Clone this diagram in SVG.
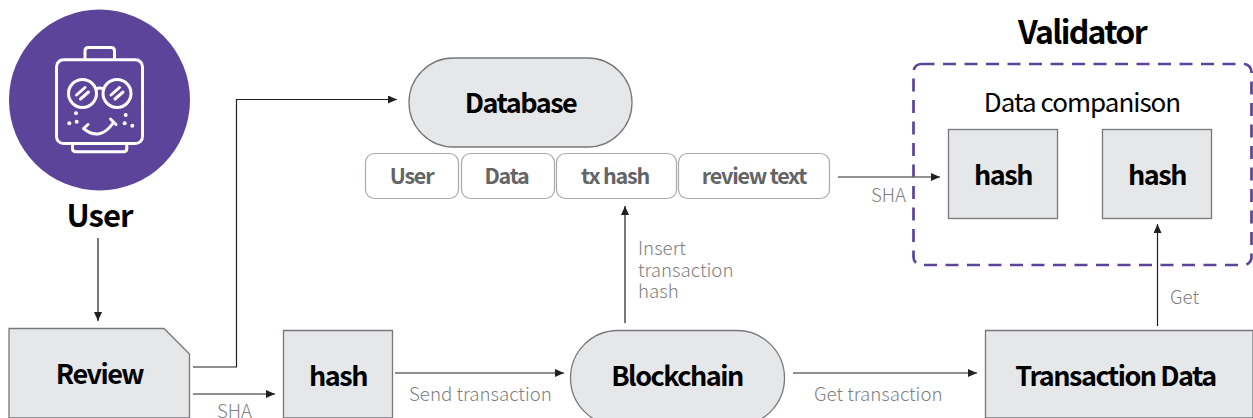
<svg xmlns="http://www.w3.org/2000/svg" width="1253" height="418" viewBox="0 0 1253 418">
<style>
text{font-family:"Noto Sans CJK KR","Noto Sans",sans-serif}
.box{fill:#e6e7e8;stroke:#77787b;stroke-width:1.3}
.t{font-weight:700;font-size:27px;fill:#000;text-anchor:middle;letter-spacing:-1.5px}
.cell{fill:#fff;stroke:#a7a9ac;stroke-width:1.2}
.ct{font-weight:700;font-size:21.500px;fill:#636466;text-anchor:middle;letter-spacing:-1.2px}
.lab{font-weight:300;font-size:18.700px;fill:#808080}
.c{fill:none;stroke:#231f20;stroke-width:1.2;marker-end:url(#a)}
.g{stroke:#6d6e71;stroke-width:1.4}
.i{fill:none;stroke:#fff;stroke-width:3;stroke-linecap:round;stroke-linejoin:round}
.d{fill:#fff}
</style>
<defs><marker id="a" markerUnits="userSpaceOnUse" markerWidth="10" markerHeight="10" refX="9" refY="4" orient="auto"><path d="M0 0L9 4L0 8Z" fill="#231f20"/></marker></defs>
<g id="user">
<circle cx="99.500" cy="100" r="90.500" fill="#5b4499"/>
<g class="i">
<rect x="56.500" y="59.800" width="86" height="83.700" rx="7"/>
<path d="M85 59V51Q85 47.500 88.500 47.500H111Q114.500 47.500 114.500 51V59"/>
<path d="M72.500 144V148.500Q72.500 151.800 76 151.800H123.500Q126.800 151.800 126.800 148.500V144"/>
<circle cx="82.500" cy="93.500" r="14"/><circle cx="117" cy="93.500" r="14"/>
<path d="M96.500 89Q99.700 87 103 89"/>
<path d="M76.500 95L85 87.500M80.500 99L88.500 92M111 95L119.500 87.500M115 99L123 92"/>
<path d="M83.500 128.500Q100 142 113.500 122.500M83.500 128.500L88 124.500M110.500 119L116 124.500"/>
</g>
<g class="d"><circle cx="76" cy="113.300" r="2"/><circle cx="76.700" cy="121.700" r="2"/><circle cx="69.300" cy="123.300" r="2"/><circle cx="125.700" cy="115" r="2"/><circle cx="124.700" cy="123.300" r="2"/><circle cx="132.300" cy="125.700" r="2"/></g>
<text class="t" x="99.500" y="227" style="font-size:31px;letter-spacing:-1px">User</text>
</g>
<g id="review"><path class="box" d="M9 328.500H164L189.500 354V418H9Z"/><text class="t" x="99.500" y="384.300">Review</text></g>
<g id="hash1"><path class="box" d="M283.500 330.500H392.500V418H283.500Z"/><text class="t" x="338" y="386.300">hash</text></g>
<g id="database"><rect class="box" x="409" y="58" width="223" height="89" rx="44.500"/><text class="t" x="520.500" y="113.300">Database</text></g>
<g id="fields">
<rect class="cell" x="365.500" y="153.500" width="93" height="45" rx="9"/><text class="ct" x="411.500" y="184">User</text>
<rect class="cell" x="461.500" y="153.500" width="93" height="45" rx="9"/><text class="ct" x="506.500" y="184">Data</text>
<rect class="cell" x="556.500" y="153.500" width="120" height="45" rx="9"/><text class="ct" x="615" y="184">tx hash</text>
<rect class="cell" x="678.500" y="153.500" width="151" height="45" rx="9"/><text class="ct" x="754" y="184">review text</text>
</g>
<g id="validator">
<text class="t" x="1082" y="44" style="font-size:32px;letter-spacing:-1.700px">Validator</text>
<rect x="913.500" y="64" width="338" height="201" rx="8" fill="none" stroke="#5b4499" stroke-width="2.700" stroke-dasharray="13 8.500"/>
<text x="1082" y="112" font-size="26" text-anchor="middle" font-weight="400" letter-spacing="-1" fill="#000">Data companison</text>
</g>
<g id="hash2"><rect class="box" x="948.500" y="129.500" width="109" height="89"/><text class="t" x="1003" y="185.300">hash</text></g>
<g id="hash3"><rect class="box" x="1102.500" y="129.500" width="109" height="89"/><text class="t" x="1157" y="185.300">hash</text></g>
<g id="blockchain"><rect class="box" x="570.500" y="330.500" width="214" height="95" rx="47.500"/><text class="t" x="677" y="386.300">Blockchain</text></g>
<g id="txdata"><path class="box" d="M985.500 330.500H1253V418H985.500Z"/><text class="t" x="1115.500" y="386.300">Transaction Data</text></g>
<g id="connectors">
<path class="c" d="M98 238V321"/>
<path class="c" d="M193 367H236.500V99.500H397"/>
<path class="c" d="M193 394H275"/>
<path class="c" d="M395 373H564"/>
<path class="c" d="M793 373H977"/>
<path class="c" d="M625 323V206"/>
<path class="c" d="M1157.500 326V224"/>
<path class="c g" d="M838 177H940"/>
</g>
<g id="labels">
<text class="lab" x="217" y="418">SHA</text>
<text class="lab" x="409" y="401">Send transaction</text>
<text class="lab" x="814" y="401">Get transaction</text>
<text class="lab" x="871" y="202">SHA</text>
<text class="lab" x="1170" y="304">Get</text>
<text class="lab" x="638" y="255">Insert<tspan x="638" dy="22">transaction</tspan><tspan x="638" dy="21">hash</tspan></text>
</g>
</svg>
